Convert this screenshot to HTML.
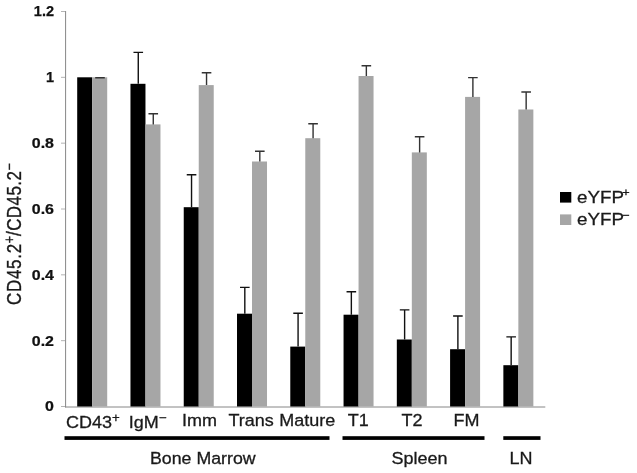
<!DOCTYPE html>
<html><head><meta charset="utf-8"><title>Chart</title>
<style>html,body{margin:0;padding:0;background:#fff}</style></head>
<body>
<svg width="637" height="473" viewBox="0 0 637 473" style="display:block">
<rect width="637" height="473" fill="#fff"/>
<g stroke="#868686" stroke-width="1" fill="none">
<path d="M65.6 11.0 V407.4 M65.1 407.0 H545.3"/>
</g>
<g stroke="#b4b4b4" stroke-width="1" fill="none">
<path d="M61 406.50 H65"/>
<path d="M61 340.67 H65"/>
<path d="M61 274.83 H65"/>
<path d="M61 209.00 H65"/>
<path d="M61 143.17 H65"/>
<path d="M61 77.33 H65"/>
<path d="M61 11.50 H65"/>
</g>
<rect x="77.20" y="77.3" width="15" height="329.20" fill="#000"/>
<rect x="92.20" y="77.3" width="15" height="329.20" fill="#a6a6a6"/>
<path d="M100.00 77.3 V77.7 M95.20 77.7 H104.80" stroke="#333" stroke-width="1.4" fill="none"/>
<rect x="130.47" y="83.8" width="15" height="322.70" fill="#000"/>
<rect x="145.47" y="124.4" width="15" height="282.10" fill="#a6a6a6"/>
<path d="M138.27 83.8 V52.4 M133.47 52.4 H143.07" stroke="#111" stroke-width="1.4" fill="none"/>
<path d="M153.27 124.4 V113.8 M148.47 113.8 H158.07" stroke="#333" stroke-width="1.4" fill="none"/>
<rect x="183.74" y="207.2" width="15" height="199.30" fill="#000"/>
<rect x="198.74" y="85.1" width="15" height="321.40" fill="#a6a6a6"/>
<path d="M191.54 207.2 V174.79999999999998 M186.74 174.79999999999998 H196.34" stroke="#111" stroke-width="1.4" fill="none"/>
<path d="M206.54 85.1 V72.7 M201.74 72.7 H211.34" stroke="#333" stroke-width="1.4" fill="none"/>
<rect x="237.01" y="313.7" width="15" height="92.80" fill="#000"/>
<rect x="252.01" y="161.5" width="15" height="245.00" fill="#a6a6a6"/>
<path d="M244.81 313.7 V287.40000000000003 M240.01 287.40000000000003 H249.61" stroke="#111" stroke-width="1.4" fill="none"/>
<path d="M259.81 161.5 V151.20000000000002 M255.01 151.20000000000002 H264.61" stroke="#333" stroke-width="1.4" fill="none"/>
<rect x="290.28" y="346.6" width="15" height="59.90" fill="#000"/>
<rect x="305.28" y="138.2" width="15" height="268.30" fill="#a6a6a6"/>
<path d="M298.08 346.6 V313.20000000000005 M293.28 313.20000000000005 H302.88" stroke="#111" stroke-width="1.4" fill="none"/>
<path d="M313.08 138.2 V123.8 M308.28 123.8 H317.88" stroke="#333" stroke-width="1.4" fill="none"/>
<rect x="343.55" y="314.7" width="15" height="91.80" fill="#000"/>
<rect x="358.55" y="76.0" width="15" height="330.50" fill="#a6a6a6"/>
<path d="M351.35 314.7 V291.70000000000005 M346.55 291.70000000000005 H356.15" stroke="#111" stroke-width="1.4" fill="none"/>
<path d="M366.35 76.0 V65.7 M361.55 65.7 H371.15" stroke="#333" stroke-width="1.4" fill="none"/>
<rect x="396.82" y="339.5" width="15" height="67.00" fill="#000"/>
<rect x="411.82" y="152.4" width="15" height="254.10" fill="#a6a6a6"/>
<path d="M404.62 339.5 V309.90000000000003 M399.82 309.90000000000003 H409.42" stroke="#111" stroke-width="1.4" fill="none"/>
<path d="M419.62 152.4 V136.70000000000002 M414.82 136.70000000000002 H424.42" stroke="#333" stroke-width="1.4" fill="none"/>
<rect x="450.09" y="349.2" width="15" height="57.30" fill="#000"/>
<rect x="465.09" y="96.9" width="15" height="309.60" fill="#a6a6a6"/>
<path d="M457.89 349.2 V316.0 M453.09 316.0 H462.69" stroke="#111" stroke-width="1.4" fill="none"/>
<path d="M472.89 96.9 V77.6 M468.09 77.6 H477.69" stroke="#333" stroke-width="1.4" fill="none"/>
<rect x="503.36" y="365.2" width="15" height="41.30" fill="#000"/>
<rect x="518.36" y="109.5" width="15" height="297.00" fill="#a6a6a6"/>
<path d="M511.16 365.2 V336.90000000000003 M506.36 336.90000000000003 H515.96" stroke="#111" stroke-width="1.4" fill="none"/>
<path d="M526.16 109.5 V92.0 M521.36 92.0 H530.96" stroke="#333" stroke-width="1.4" fill="none"/>
<g font-family="'Liberation Sans', Arial, sans-serif" font-weight="bold" font-size="14.5" fill="#111" stroke="#111" stroke-width="0.25" text-anchor="end">
<text transform="translate(54 411.40) scale(1.1 1)">0</text>
<text transform="translate(54 345.57) scale(1.1 1)">0.2</text>
<text transform="translate(54 279.73) scale(1.1 1)">0.4</text>
<text transform="translate(54 213.90) scale(1.1 1)">0.6</text>
<text transform="translate(54 148.07) scale(1.1 1)">0.8</text>
<text transform="translate(54 82.23) scale(1.0 1)">1</text>
<text transform="translate(54 16.40) scale(1.0 1)">1.2</text>
</g>
<g font-family="'Liberation Sans', Arial, sans-serif" font-size="17" fill="#1a1a1a" stroke="#1a1a1a" stroke-width="0.3">
<text transform="translate(66 427.7) scale(1.06 1)">CD43<tspan font-size="12.5" dy="-6">+</tspan></text>
<text transform="translate(128.8 427.7) scale(1.06 1)">IgM<tspan font-size="12.5" dy="-6">−</tspan></text>
<text transform="translate(181.9 426.4) scale(1.06 1)">Imm</text>
<text transform="translate(228.4 426.4) scale(1.06 1)">Trans</text>
<text transform="translate(279.3 426.4) scale(1.06 1)">Mature</text>
<text transform="translate(347.7 426.4) scale(1.06 1)">T1</text>
<text transform="translate(401.6 426.4) scale(1.06 1)">T2</text>
<text transform="translate(453.4 426.4) scale(1.06 1)">FM</text>
<text transform="translate(150 464) scale(1.045 1)">Bone Marrow</text>
<text transform="translate(391.5 463.8) scale(1.06 1)">Spleen</text>
<text transform="translate(509.6 463.8) scale(1.06 1)">LN</text>
<text transform="translate(577 202.5) scale(1.105 1)">eYFP<tspan font-size="11.5" dy="-6.5" dx="-1.5">+</tspan></text>
<text transform="translate(577 225.3) scale(1.105 1)">eYFP<tspan font-size="11.5" dy="-6.5" dx="-1.5">−</tspan></text>
<text transform="translate(20.6 305) rotate(-90) scale(1.0 1.15)"><tspan letter-spacing="0.7">CD45.2<tspan font-size="12.5" dy="-6">+</tspan><tspan dy="6" dx="-0.8" letter-spacing="0.45">/CD45.2</tspan><tspan font-size="12.5" dy="-6">−</tspan></tspan></text>
</g>
<rect x="64.5" y="436.2" width="265" height="3.7" fill="#000"/>
<rect x="342.5" y="436.2" width="142" height="3.7" fill="#000"/>
<rect x="503.3" y="436.2" width="37.2" height="3.7" fill="#000"/>
<rect x="560" y="192" width="11.3" height="10.6" fill="#000"/>
<rect x="560" y="214.4" width="11.3" height="10.6" fill="#a6a6a6"/>
</svg>
</body></html>
